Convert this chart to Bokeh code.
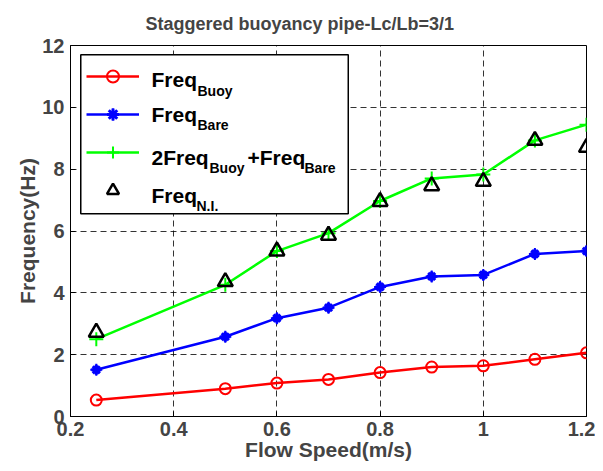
from bokeh.plotting import figure
from bokeh.models import (Legend, LegendItem, FixedTicker, Range1d, Title,
                          ColumnDataSource, BoxAnnotation)
from bokeh.core.properties import value
from bokeh.embed import file_html
from bokeh.resources import INLINE

speed = [0.25, 0.5, 0.6, 0.7, 0.8, 0.9, 1.0, 1.1, 1.2]
freq_buoy = [0.53, 0.90, 1.08, 1.20, 1.42, 1.60, 1.64, 1.85, 2.06]
freq_bare = [1.51, 2.58, 3.18, 3.52, 4.19, 4.53, 4.58, 5.26, 5.35]
freq_comb = [2.50, 4.26, 5.35, 5.93, 6.97, 7.70, 7.83, 8.93, 9.44]
freq_ni = [2.72, 4.36, 5.35, 5.86, 6.95, 7.46, 7.60, 8.93, 8.70]
x_ticks = [0.2, 0.4, 0.6, 0.8, 1.0, 1.2]
y_ticks = [0, 2, 4, 6, 8, 10, 12]

FONT = "Liberation Sans"

p = figure(width=595, height=463, output_backend="svg", toolbar_location=None,
           x_range=Range1d(0.2, 1.2), y_range=Range1d(0, 12),
           title="Staggered buoyancy pipe-Lc/Lb=3/1",
           min_border_left=0, min_border_right=9, min_border_top=7, min_border_bottom=0)
p.title.align = "left"
p.title.offset = 75
p.title.text_font = FONT
p.title.text_font_size = "18px"
p.title.text_font_style = "bold"
p.title.standoff = 23

for ax in (p.xaxis, p.yaxis):
    ax.axis_label_text_font = FONT
    ax.axis_label_text_font_size = "21px"
    ax.axis_label_text_font_style = "bold"
    ax.major_label_text_font = FONT
    ax.major_label_text_font_size = "20px"
    ax.major_label_text_font_style = "bold"
    ax.axis_line_color = "black"
    ax.major_tick_line_color = "black"
    ax.major_tick_in = 5
    ax.major_tick_out = 0
    ax.minor_tick_line_color = None
p.xaxis.axis_label = "Flow Speed(m/s)"
p.yaxis.axis_label = "Frequency(Hz)"
p.xaxis.ticker = FixedTicker(ticks=x_ticks)
p.yaxis.ticker = FixedTicker(ticks=y_ticks)
p.xaxis.major_label_overrides = {1.0: "1"}
p.xaxis.axis_label_standoff = -1
p.yaxis.axis_label_standoff = 0
p.xaxis.major_label_standoff = 5
p.yaxis.major_label_standoff = 6

# spacer on the left (empty title)
p.add_layout(Title(text=" ", text_font_size="10px", standoff=0), "left")

p.grid.grid_line_color = "black"
p.grid.grid_line_alpha = 0.8
p.grid.grid_line_dash = "6 4"
p.grid.grid_line_width = 1
p.outline_line_color = "black"
p.outline_line_alpha = 1.0

# legend frame (white box over the grid)
p.add_layout(BoxAnnotation(left=0.2199, right=0.7383, bottom=6.56, top=11.70,
                           fill_color="white", fill_alpha=1.0,
                           line_color="black", line_width=1.5, line_alpha=1.0,
                           level="underlay"))

r1 = p.line(speed, freq_buoy, line_color="red", line_width=2.5)
m1 = p.scatter(speed, freq_buoy, marker="circle", size=11, fill_color=None, line_color="red", line_width=2)
r2 = p.line(speed, freq_bare, line_color="blue", line_width=2.5)
m2 = p.scatter(speed, freq_bare, marker="asterisk", size=10, line_color="blue", line_width=3)
m2b = p.scatter(speed, freq_bare, marker="cross", size=12, line_color="blue", line_width=2)
r3 = p.line(speed, freq_comb, line_color="#00ff00", line_width=2.5)
m3 = p.scatter(speed, freq_comb, marker="cross", size=14, line_color="#00ff00", line_width=2)
m4 = p.scatter(speed, freq_ni, marker="triangle", size=15, fill_color=None, line_color="black", line_width=2.5)

legend = Legend(items=[
    LegendItem(label=" ", renderers=[r1, m1]),
    LegendItem(label=" ", renderers=[r2, m2, m2b]),
    LegendItem(label=" ", renderers=[r3, m3]),
    LegendItem(label=" ", renderers=[m4]),
], location="top_left")
legend.glyph_width = 53
legend.glyph_height = 30
legend.label_height = 30
legend.label_width = 195
legend.spacing = 8
legend.padding = 7
legend.margin = 16
legend.border_line_color = None
legend.background_fill_alpha = 0
legend.label_text_font_size = "12px"
p.add_layout(legend)

# legend texts: main words and subscripts
main_txt = ["Freq", "Freq", "2Freq", "+Freq", "Freq"]
main_dx = [0, 0, 0, 96, 0]
main_row = [10.90, 9.78, 8.39, 8.39, 7.16]
sub_txt = ["Buoy", "Bare", "Buoy", "Bare", "N.I."]
sub_dx = [46, 46, 58, 153, 45]
sub_row = [10.90, 9.78, 8.39, 8.39, 7.16]
leg_x = 0.357

src_main = ColumnDataSource(dict(x=[leg_x] * len(main_txt), y=main_row, t=main_txt, dx=main_dx))
src_sub = ColumnDataSource(dict(x=[leg_x] * len(sub_txt), y=sub_row, t=sub_txt, dx=sub_dx))
p.text(x="x", y="y", text="t", x_offset="dx", source=src_main, text_font=value(FONT),
       text_font_size="21px", text_font_style="bold", text_baseline="alphabetic",
       text_color="black", level="overlay")
p.text(x="x", y="y", text="t", x_offset="dx", y_offset=11, source=src_sub, text_font=value(FONT),
       text_font_size="14px", text_font_style="bold", text_baseline="alphabetic",
       text_color="black", level="overlay")

open("out.html", "w").write(file_html(p, INLINE))
